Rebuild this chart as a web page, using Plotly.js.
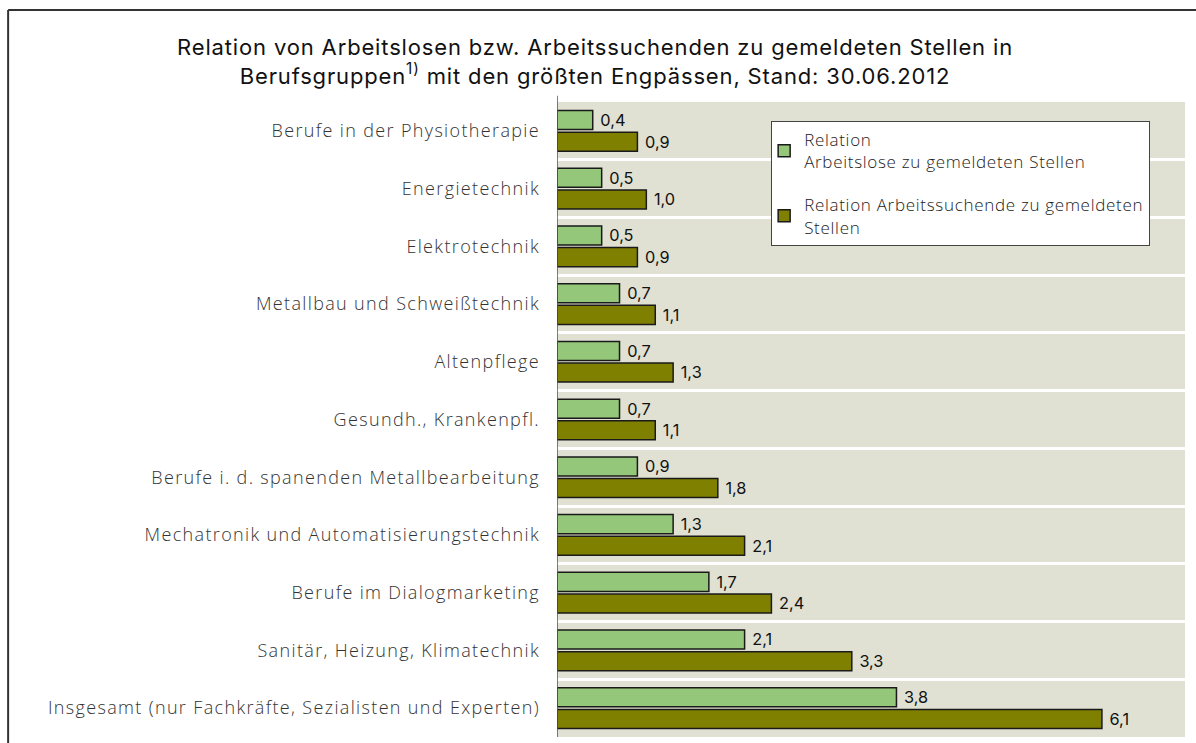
<!DOCTYPE html>
<html>
<head>
<meta charset="utf-8">
<script src="https://cdn.plot.ly/plotly-3.0.1.min.js"></script>
<style>
html,body{margin:0;padding:0;background:#fff;}
#chart{width:1196px;height:743px;}
.ytick text{letter-spacing:1.35px;}
.gtitle{letter-spacing:0.85px;}
.legendtext{letter-spacing:0.7px;}
</style>
</head>
<body>
<div id="chart"></div>
<script>
const categories = [
  "Berufe in der Physiotherapie",
  "Energietechnik",
  "Elektrotechnik",
  "Metallbau und Schweißtechnik",
  "Altenpflege",
  "Gesundh., Krankenpfl.",
  "Berufe i. d. spanenden Metallbearbeitung",
  "Mechatronik und Automatisierungstechnik",
  "Berufe im Dialogmarketing",
  "Sanitär, Heizung, Klimatechnik",
  "Insgesamt (nur Fachkräfte, Sezialisten und Experten)"
];
const arbeitslose = [0.4, 0.5, 0.5, 0.7, 0.7, 0.7, 0.9, 1.3, 1.7, 2.1, 3.8];
const arbeitssuchende = [0.9, 1.0, 0.9, 1.1, 1.3, 1.1, 1.8, 2.1, 2.4, 3.3, 6.1];
const seriesNames = [
  "Relation<br>Arbeitslose zu gemeldeten Stellen",
  "Relation Arbeitssuchende zu gemeldeten<br>Stellen"
];

const labelFont = {family: "Inter, 'Open Sans', sans-serif", size: 18, color: "#111"};

const traces = [
  {
    type: "bar", orientation: "h", name: seriesNames[0], legendgroup: "a",
    y: categories, x: arbeitslose,
    marker: {color: "#94c77a", line: {color: "#1a1a1a", width: 1.5}},
    text: arbeitslose, texttemplate: "\u00a0%{x:.1f}", textposition: "outside",
    textfont: labelFont, cliponaxis: false, hoverinfo: "skip"
  },
  {
    type: "bar", orientation: "h", name: seriesNames[1], legendgroup: "b",
    y: categories, x: arbeitssuchende,
    marker: {color: "#808000", line: {color: "#1a1a1a", width: 1.5}},
    text: arbeitssuchende, texttemplate: "\u00a0%{x:.1f}", textposition: "outside",
    textfont: labelFont, cliponaxis: false, hoverinfo: "skip"
  }
];

const layout = {
  width: 1196, height: 743,
  paper_bgcolor: "#ffffff",
  plot_bgcolor: "#e0e0d3",
  separators: ",.",
  margin: {l: 557, r: 11, t: 102, b: 6, pad: 0},
  barmode: "group",
  bargap: 0.25,
  bargroupgap: 0.12,
  showlegend: true,
  title: {
    text: "Relation von Arbeitslosen bzw. Arbeitssuchenden zu gemeldeten Stellen in<br>Berufsgruppen<sup>1)</sup> mit den größten Engpässen, Stand: 30.06.2012",
    font: {family: "Inter, 'Open Sans', sans-serif", size: 22, color: "#111"},
    xref: "container", x: 0.4975, xanchor: "center",
    yref: "container", y: 0.926, yanchor: "top"
  },
  xaxis: {
    range: [0, 7.03], showgrid: false, zeroline: false,
    showticklabels: false, ticks: "", showline: false, fixedrange: true
  },
  yaxis: {
    type: "category", autorange: "reversed",
    showline: false, zeroline: false,
    tickson: "boundaries", showgrid: true, gridcolor: "#ffffff", gridwidth: 3,
    ticks: "", ticklabelstandoff: 16,
    tickfont: {family: "'Open Sans', sans-serif", size: 18, color: "#333", weight: 300}
  },
  legend: {
    x: 0.341, y: 0.97, xanchor: "left", yanchor: "top",
    bgcolor: "#ffffff", bordercolor: "#444", borderwidth: 1,
    font: {family: "'Open Sans', sans-serif", size: 17, color: "#222", weight: 300},
    traceorder: "grouped", itemwidth: 30, tracegroupgap: 18, indentation: -8
  },
  shapes: [
    {type: "line", xref: "x", yref: "paper", x0: 0, x1: 0, y0: 0, y1: 1.01,
     line: {color: "#555", width: 1.5}},
    {type: "line", xref: "paper", yref: "paper", x0: -0.874, x1: 1.02, y0: 1.145, y1: 1.145,
     line: {color: "#333", width: 2}},
    {type: "line", xref: "paper", yref: "paper", x0: -0.874, x1: -0.874, y0: -0.02, y1: 1.145,
     line: {color: "#333", width: 2}}
  ]
};

Plotly.newPlot("chart", traces, layout, {displayModeBar: false, staticPlot: true});
</script>
</body>
</html>
